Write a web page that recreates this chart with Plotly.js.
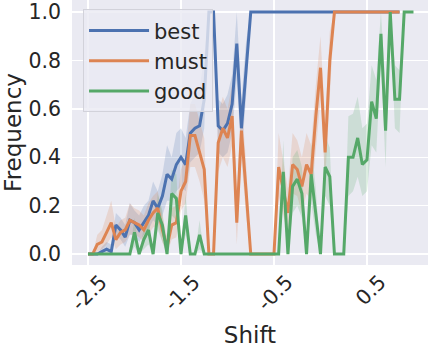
<!DOCTYPE html>
<html>
<head>
<meta charset="utf-8">
<script src="https://cdn.plot.ly/plotly-3.0.1.min.js"></script>
<style>
  html, body { margin: 0; padding: 0; background: #fff; }
  #chart { width: 428px; height: 348px; }
</style>
</head>
<body>
<div id="chart"></div>
<script>
// shift values (x), one point every 0.05
let shift = [-2.5,-2.45,-2.4,-2.35,-2.3,-2.25,-2.2,-2.15,-2.1,-2.05,
  -2.0,-1.95,-1.9,-1.85,-1.8,-1.75,-1.7,-1.65,-1.6,-1.55,
  -1.5,-1.45,-1.4,-1.35,-1.3,-1.25,-1.2,-1.15,-1.1,-1.05,
  -1.0,-0.95,-0.9,-0.85,-0.8,-0.75,-0.7,-0.65,-0.6,-0.55,
  -0.5,-0.45,-0.4,-0.35,-0.3,-0.25,-0.2,-0.15,-0.1,-0.05,
  0.0,0.05,0.1,0.15,0.2,0.25,0.3,0.35,0.4,0.45,
  0.5,0.55,0.6,0.65,0.7,0.75,0.8,0.85,0.9,0.95,1.0];

let xTickVals = [-2.5, -1.5, -0.5, 0.5];
let xTickText = ["-2.5", "-1.5", "-0.5", "0.5"];

// "best" (up to 0.85)
let best = [0,0,0,0.01,0.02,0.01,0.12,0.10,0.07,0.14,
  0.13,0.10,0.13,0.16,0.22,0.19,0.24,0.33,0.31,0.37,
  0.40,0.37,0.50,0.52,0.53,0.64,1,1,0.53,0.51,
  0.54,0.62,0.87,0.52,0.76,1,1,1,1,1,
  1,1,1,1,1,1,1,1,1,1,
  1,1,1,1,1,1,1,1,1,1,
  1,1,1,1,1,1,1,1];
let bestLo = [0,0,0,0,0,0,0.08,0.06,0.03,0.08,
  0.08,0.05,0.08,0.10,0.14,0.12,0.16,0.22,0.22,0.26,
  0.28,0.26,0.38,0.40,0.42,0.52,1,1,0.42,0.40,
  0.42,0.50,0.72,0.40,0.65,1,1,1,1,1,
  1,1,1,1,1,1,1,1,1,1,
  1,1,1,1,1,1,1,1,1,1,
  1,1,1,1,1,1,1,1];
let bestHi = [0,0,0,0.03,0.05,0.04,0.17,0.15,0.12,0.21,
  0.18,0.16,0.20,0.22,0.30,0.26,0.33,0.45,0.40,0.50,
  0.52,0.48,0.62,0.66,0.68,0.82,1,1,0.64,0.62,
  0.66,0.74,1,0.64,0.88,1,1,1,1,1,
  1,1,1,1,1,1,1,1,1,1,
  1,1,1,1,1,1,1,1,1,1,
  1,1,1,1,1,1,1,1];

// "must" (up to 0.85)
let must = [0,0,0.04,0.05,0.09,0.13,0.06,0.09,0.10,0.14,
  0.13,0.12,0.10,0.14,0.17,0.19,0.10,0.03,0.12,0.13,
  0.26,0.30,0.49,0.49,0.42,0.35,0,0,0.46,0.52,
  0.48,0.57,0.13,0.51,0.26,0,0,0,0,0,
  0,0.36,0.27,0.17,0.37,0.35,0.28,0.37,0.33,0.57,
  0.77,0.42,0.80,1,1,1,1,1,1,1,
  1,1,1,1,1,1,1,1];
let mustLo = [0,0,0.01,0.02,0.04,0.07,0.02,0.04,0.05,0.08,
  0.08,0.07,0.05,0.08,0.11,0.12,0.05,0,0.06,0.07,
  0.18,0.21,0.36,0.36,0.30,0.22,0,0,0.34,0.40,
  0.36,0.45,0.04,0.39,0.16,0,0,0,0,0,
  0,0.24,0.16,0.08,0.25,0.24,0.17,0.25,0.22,0.44,
  0.64,0.30,0.68,1,1,1,1,1,1,1,
  1,1,1,1,1,1,1,1];
let mustHi = [0,0,0.08,0.10,0.16,0.22,0.11,0.14,0.15,0.21,
  0.19,0.18,0.16,0.21,0.24,0.26,0.16,0.07,0.19,0.20,
  0.35,0.40,0.62,0.62,0.55,0.48,0,0,0.58,0.65,
  0.60,0.70,0.24,0.63,0.38,0,0,0,0,0,
  0,0.50,0.38,0.27,0.50,0.47,0.40,0.50,0.45,0.70,
  0.90,0.55,0.92,1,1,1,1,1,1,1,
  1,1,1,1,1,1,1,1];

// "good" (up to 1.0)
let good = [0,0,0,0,0,0,0,0,0,0,
  0.09,0,0.06,0.10,0,0.17,0.12,0,0.25,0.23,
  0,0.16,0,0,0.08,0,0,0,0,0,
  0,0,0,0,0,0,0,0,0,0,
  0,0,0.34,0,0.28,0.31,0.25,0,0.33,0.17,
  0,0.36,0.32,0,0,0,0.40,0.40,0.48,0.37,
  0.39,0.63,0.56,0.91,0.51,1,0.64,0.64,1,1,1];
let goodLo = [0,0,0,0,0,0,0,0,0,0,
  0.03,0,0.02,0.04,0,0.10,0.05,0,0.16,0.14,
  0,0.08,0,0,0.02,0,0,0,0,0,
  0,0,0,0,0,0,0,0,0,0,
  0,0,0.22,0,0.17,0.20,0.15,0,0.21,0.08,
  0,0.24,0.20,0,0,0,0.24,0.26,0.32,0.24,
  0.26,0.45,0.42,0.80,0.36,1,0.52,0.50,1,1,1];
let goodHi = [0,0,0,0,0,0,0,0,0,0,
  0.15,0,0.11,0.16,0,0.25,0.18,0,0.35,0.33,
  0,0.25,0,0,0.14,0,0,0,0,0,
  0,0,0,0,0,0,0,0,0,0,
  0,0,0.47,0,0.40,0.43,0.36,0,0.46,0.27,
  0,0.49,0.44,0,0,0,0.57,0.58,0.65,0.52,
  0.54,0.78,0.72,1,0.68,1,0.78,0.76,1,1,1];

let seriesNames = ["best", "must", "good"];
let colors = ["#4C72B0", "#DD8452", "#55A868"];
let bands = ["rgba(76,114,176,0.2)", "rgba(221,132,82,0.2)", "rgba(85,168,104,0.2)"];

let values = [best, must, good];
let lows = [bestLo, mustLo, goodLo];
let highs = [bestHi, mustHi, goodHi];

let data = [];

// confidence bands first, so they sit under every line
for (let k = 0; k < 3; k++) {
  let xs = shift.slice(0, values[k].length);
  data.push({
    x: xs, y: lows[k], type: "scatter", mode: "lines",
    line: { width: 0 }, showlegend: false, hoverinfo: "skip"
  });
  data.push({
    x: xs, y: highs[k], type: "scatter", mode: "lines",
    line: { width: 0 }, fill: "tonexty", fillcolor: bands[k],
    showlegend: false, hoverinfo: "skip"
  });
}

for (let k = 0; k < 3; k++) {
  data.push({
    x: shift.slice(0, values[k].length),
    y: values[k],
    name: seriesNames[k],
    legendgroup: seriesNames[k],
    type: "scatter",
    mode: "lines",
    line: { color: colors[k], width: 3 }
  });
}

let textColor = "#262626";

let layout = {
  width: 428,
  height: 348,
  margin: { l: 72, r: 0, t: 0, b: 83, pad: 0 },
  paper_bgcolor: "#ffffff",
  plot_bgcolor: "#EAEAF2",
  font: { family: "DejaVu Sans", color: textColor },
  xaxis: {
    range: [-2.672, 1.156],
    tickvals: xTickVals,
    ticktext: xTickText,
    tickangle: -45,
    ticklabelshift: 13,
    tickfont: { size: 20.5, color: textColor },
    gridcolor: "#ffffff",
    gridwidth: 1.5,
    zeroline: false,
    showline: false,
    ticks: "",
    title: { text: "Shift", font: { size: 23, color: textColor }, standoff: 12 }
  },
  yaxis: {
    range: [-0.045, 1.05],
    tick0: 0,
    dtick: 0.2,
    tickformat: ".1f",
    tickfont: { size: 20.5, color: textColor },
    gridcolor: "#ffffff",
    gridwidth: 1.5,
    zeroline: false,
    showline: false,
    ticks: "",
    ticklabelstandoff: 10,
    title: { text: "Frequency", font: { size: 23, color: textColor } }
  },
  legend: {
    x: 0.031,
    y: 0.965,
    xanchor: "left",
    yanchor: "top",
    traceorder: "normal",
    tracegroupgap: 3,
    bgcolor: "rgba(234,234,242,0.8)",
    bordercolor: "#d2d2da",
    borderwidth: 1,
    itemwidth: 60,
    entrywidth: 132,
    entrywidthmode: "pixels",
    font: { size: 21, color: textColor }
  },
  showlegend: true
};

Plotly.newPlot("chart", data, layout, { staticPlot: true });
</script>
</body>
</html>
